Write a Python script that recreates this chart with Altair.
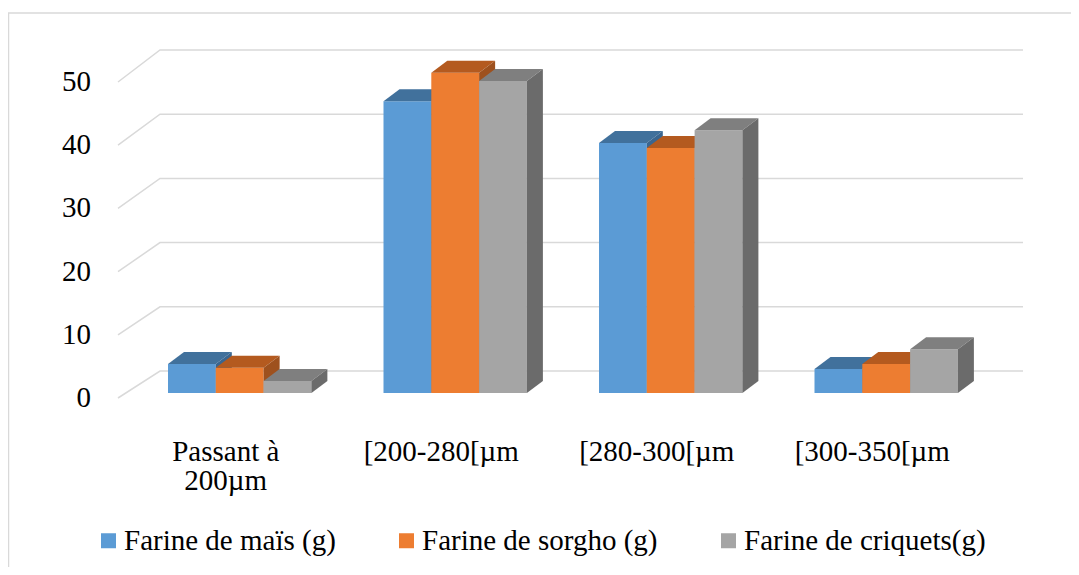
import altair as alt
import pandas as pd

# ---------------- data ----------------
categories = ["Passant à\n200µm", "[200-280[µm", "[280-300[µm", "[300-350[µm"]
series_names = ["Farine de maïs (g)", "Farine de sorgho (g)", "Farine de criquets(g)"]
mais = [4.6, 46.1, 39.5, 3.8]
sorgho = [4.0, 50.6, 38.7, 4.6]
criquets = [1.9, 49.3, 41.5, 6.9]
y_ticks = [0, 10, 20, 30, 40, 50]

front_colors = ["#5B9BD5", "#ED7D31", "#A5A5A5"]
top_colors = ["#41719C", "#B45A1F", "#7F7F7F"]
side_colors = ["#3A6690", "#9E511E", "#6B6B6B"]

FONT = "'Liberation Serif', 'Times New Roman', Times, serif"
FS = 29

# ---------------- geometry (style constants) ----------------
W, H = 1063, 559
FLOOR_X0 = 110.0      # front-left corner of floor (view px)
SLOT = 215.5          # width of one category slot (px)
ZERO_Y = 385.0        # value 0 on the bars' front plane (view px)
PPU = 6.33            # px per value unit


def u(px):
    return (px - FLOOR_X0) / SLOT


x_dom = [u(0), u(W)]
y_dom = [(ZERO_Y - H) / PPU, ZERO_Y / PPU]
BAR_OFF = 50 / SLOT
BAR_W = 47.8 / SLOT
DX = 16 / SLOT
DY = 12 / PPU

xs = alt.Scale(domain=x_dom, nice=False, zero=False)
ys = alt.Scale(domain=y_dom, nice=False, zero=False)

values = [mais, sorgho, criquets]

# ---------------- grid (3D walls) ----------------
grid_rows = []
for t in y_ticks:
    vf = -0.79 + 0.9985 * t
    vb = 3.476 + 1.0142 * t
    grid_rows += [
        {"t": t, "k": 0, "gx": 0.0, "gy": vf},
        {"t": t, "k": 1, "gx": 42 / SLOT, "gy": vb},
        {"t": t, "k": 2, "gx": (1023 - 118) / SLOT, "gy": vb},
    ]
grid_df = pd.DataFrame(grid_rows)

grid = alt.Chart(grid_df).mark_line(color="#D9D9D9", strokeWidth=1.5).encode(
    x=alt.X("gx:Q", scale=xs, axis=None),
    y=alt.Y("gy:Q", scale=ys, axis=None),
    detail="t:N",
    order="k:Q",
)

ylab_df = pd.DataFrame({"t": y_ticks, "ly": [-0.79 + 0.9985 * t for t in y_ticks],
                        "label": [str(t) for t in y_ticks]})
ylabels = alt.Chart(ylab_df).mark_text(
    align="right", baseline="middle", font=FONT, fontSize=FS, color="#000000"
).encode(
    x=alt.value(83),
    y=alt.Y("ly:Q", scale=ys, axis=None),
    text="label:N",
)

xlab_df = pd.DataFrame({"cat": categories, "cx": [i + 0.5 for i in range(len(categories))]})
xlabels = alt.Chart(xlab_df).mark_text(
    align="center", baseline="top", font=FONT, fontSize=FS, color="#000000",
    lineBreak="\n", lineHeight=29,
).encode(
    x=alt.X("cx:Q", scale=xs, axis=None),
    y=alt.value(430),
    text="cat:N",
)

# ---------------- bars ----------------
layers = [grid]
for s, name in enumerate(series_names):
    fr, tp, sd = [], [], []
    for g, v in enumerate(values[s]):
        x0 = g + BAR_OFF + s * BAR_W
        x1 = x0 + BAR_W
        fr.append({"g": g, "series": name, "x0": x0, "x1": x1, "v": v, "b": 0.0})
        tp += [
            {"g": g, "px": x0, "lo": v, "hi": v},
            {"g": g, "px": x0 + DX, "lo": v, "hi": v + DY},
            {"g": g, "px": x1, "lo": v, "hi": v + DY},
            {"g": g, "px": x1 + DX, "lo": v + DY, "hi": v + DY},
        ]
        sd += [
            {"g": g, "px": x1, "lo": 0.0, "hi": v},
            {"g": g, "px": x1 + DX, "lo": DY, "hi": v + DY},
        ]
    front = alt.Chart(pd.DataFrame(fr)).mark_rect().encode(
        x=alt.X("x0:Q", scale=xs, axis=None),
        x2="x1:Q",
        y=alt.Y("b:Q", scale=ys, axis=None),
        y2="v:Q",
        color=alt.Color(
            "series:N",
            scale=alt.Scale(domain=series_names, range=front_colors),
            legend=alt.Legend(
                title=None, orient="none", legendX=86, legendY=518,
                direction="horizontal", symbolType="square", symbolSize=225,
                symbolStrokeWidth=0, labelFont=FONT, labelFontSize=FS,
                labelColor="#000000", labelOffset=1, columnPadding=56,
                padding=0, labelLimit=400,
            ),
        ),
    )
    top = alt.Chart(pd.DataFrame(tp)).mark_area(color=top_colors[s]).encode(
        x=alt.X("px:Q", scale=xs, axis=None),
        y=alt.Y("lo:Q", scale=ys, axis=None, stack=None),
        y2="hi:Q",
        detail="g:N",
    )
    side = alt.Chart(pd.DataFrame(sd)).mark_area(color=side_colors[s]).encode(
        x=alt.X("px:Q", scale=xs, axis=None),
        y=alt.Y("lo:Q", scale=ys, axis=None, stack=None),
        y2="hi:Q",
        detail="g:N",
    )
    layers += [front, top, side]

border_left = alt.Chart(pd.DataFrame({"a": [0]})).mark_rule(color="#D9D9D9", strokeWidth=1.5).encode(
    x=alt.value(0.5), y=alt.value(5), y2=alt.value(H)
)
border_top = alt.Chart(pd.DataFrame({"a": [0]})).mark_rule(color="#D9D9D9", strokeWidth=1.5).encode(
    x=alt.value(0), x2=alt.value(W), y=alt.value(5)
)

layers += [ylabels, xlabels, border_left, border_top]

chart = alt.layer(*layers).properties(
    width=W, height=H, padding=0,
    autosize=alt.AutoSizeParams(type="none"),
    background="#FFFFFF",
).configure_view(stroke=None)

chart.save("out.html", embed_options={"renderer": "svg", "actions": False})
